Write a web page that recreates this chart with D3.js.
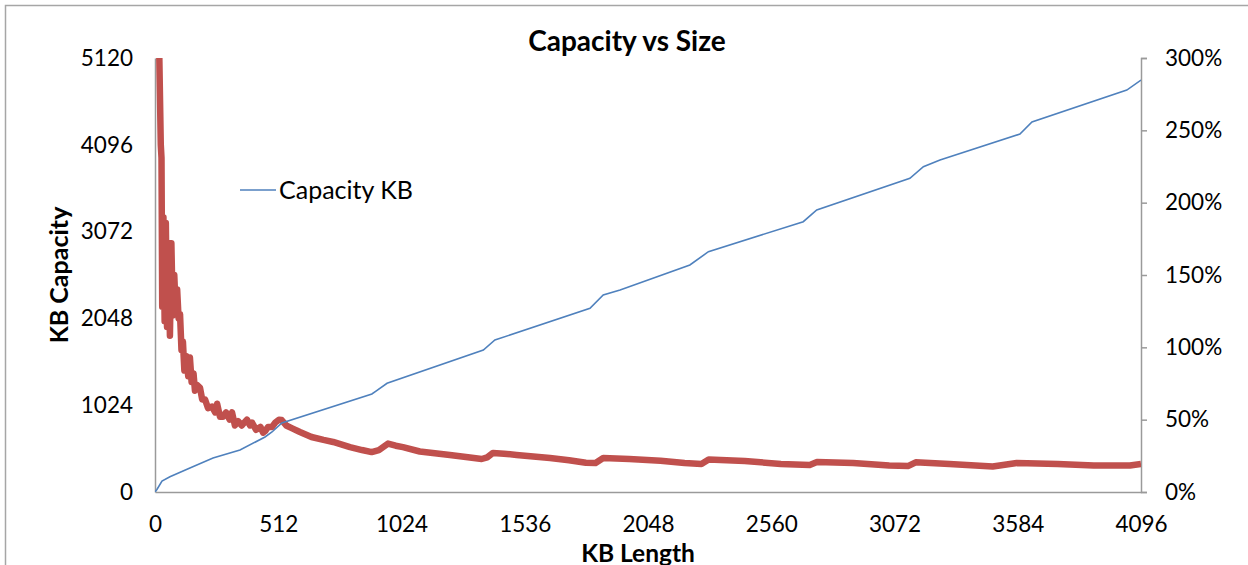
<!DOCTYPE html>
<html>
<head>
<meta charset="utf-8">
<script src="https://cdn.jsdelivr.net/npm/d3@7"></script>
<style>
  body { margin: 0; background: #fff; }
  text { font-family: Lato, "Liberation Sans", sans-serif; fill: #000; }
</style>
</head>
<body>
<div class="chart"></div>
<script>
// capacity series (KB length -> KB capacity)
var capLen = [0, 8, 29, 62, 145, 241, 353, 457, 486, 527, 901, 918, 964, 1364, 1412, 1807, 1862, 1932, 2222, 2299, 2693, 2749, 3136, 3192, 3261, 3593, 3643, 4037, 4096];
var capKB  = [0, 30, 130, 180, 283, 401, 495, 649, 708, 814, 1156, 1191, 1282, 1675, 1793, 2167, 2324, 2383, 2678, 2835, 3189, 3327, 3701, 3838, 3917, 4223, 4365, 4742, 4860];

// overhead series (KB length -> percent, right axis)
var ovLen = [4, 18, 24, 27, 30, 35, 40, 45, 50, 56, 62, 68, 74, 80, 86, 92, 98, 104, 110, 116, 122, 130, 138, 145, 152, 160, 166, 175, 187, 196, 208, 220, 237, 250, 258, 270, 282, 295, 310, 320, 332, 345, 360, 382, 395, 403, 420, 438, 449, 457, 470, 486, 500, 515, 526, 545, 570, 602, 650, 700, 740, 810, 860, 900, 930, 968, 1000, 1030, 1100, 1225, 1300, 1357, 1380, 1404, 1450, 1502, 1641, 1720, 1790, 1830, 1862, 1970, 2100, 2200, 2270, 2300, 2450, 2600, 2720, 2750, 2900, 3050, 3130, 3160, 3300, 3480, 3580, 3750, 3900, 4050, 4096];
var ovPct = [420, 300, 240, 231, 128, 190, 118, 186, 114, 172, 108, 172, 122, 150, 126, 140, 120, 123, 98, 104, 84, 94, 80, 93, 76, 82, 70, 74, 72, 64, 64, 58, 59, 55, 61, 52, 52, 55, 50, 55, 46, 49, 46, 50, 46, 48, 43, 45, 41, 42, 45, 45, 48, 50, 49.8, 46, 44, 41.5, 38, 36, 34.6, 31, 29, 27.6, 29, 33.5, 32, 31, 28, 25.6, 24, 22.8, 24, 27, 26.5, 25.6, 23.5, 22, 20.2, 20, 23.5, 22.8, 21.6, 20, 19.4, 22.5, 21.4, 19.4, 18.7, 20.7, 20, 18.3, 18, 20.5, 19.4, 17.6, 20, 19.4, 18.3, 18.3, 19.4];

var xTicks = [0, 512, 1024, 1536, 2048, 2560, 3072, 3584, 4096];
var yTicks = [0, 1024, 2048, 3072, 4096, 5120];
var pctTicks = [0, 50, 100, 150, 200, 250, 300];

var width = 1248;
var height = 565;
var plot = { left: 155, right: 1141, top: 58, bottom: 492 };

var svg = d3.select(".chart").append("svg")
.attr("width", width)
.attr("height", height);

// chart area border (only left/top edge visible in the crop)
svg.append("rect")
.attr("x", 5.5).attr("y", 5.5)
.attr("width", 1300).attr("height", 700)
.attr("fill", "none")
.attr("stroke", "#a6a6a6")
.attr("stroke-width", 1.5);

var x = d3.scaleLinear().domain([0, 4096]).range([plot.left, plot.right]);
var y = d3.scaleLinear().domain([0, 5120]).range([plot.bottom, plot.top]);
var y2 = d3.scaleLinear().domain([0, 300]).range([plot.bottom, plot.top]);

svg.append("clipPath").attr("id", "plotclip")
.append("rect")
.attr("x", plot.left).attr("y", plot.top)
.attr("width", plot.right - plot.left)
.attr("height", plot.bottom - plot.top);

// axes: left and bottom have no tick marks, right one has outward ticks
var axisColor = "#9a9a9a";

var gx = svg.append("g")
.attr("transform", "translate(0," + plot.bottom + ")")
.call(d3.axisBottom(x).tickValues(xTicks).tickSize(0).tickPadding(24).tickFormat(d3.format("d")));

var gy = svg.append("g")
.attr("transform", "translate(" + plot.left + ",0)")
.call(d3.axisLeft(y).tickValues(yTicks).tickSize(0).tickPadding(22).tickFormat(d3.format("d")));

var gy2 = svg.append("g")
.attr("transform", "translate(" + plot.right + ",0)")
.call(d3.axisRight(y2).tickValues(pctTicks).tickSize(6).tickPadding(18).tickFormat(d => d + "%"));

[gx, gy, gy2].forEach(function (g) {
  g.select(".domain").attr("stroke", axisColor).attr("stroke-width", 1.5);
  g.selectAll(".tick line").attr("stroke", axisColor).attr("stroke-width", 1.5);
  g.selectAll(".tick text")
  .style("font-family", "Lato, 'Liberation Sans', sans-serif")
  .style("font-size", "22.5px")
  .attr("fill", "#000");
});

// lines
var capData = capLen.map((d, i) => [d, capKB[i]]);
var ovData = ovLen.map((d, i) => [d, ovPct[i]]);

var lines = svg.append("g").attr("clip-path", "url(#plotclip)");

lines.append("path")
.datum(ovData)
.attr("fill", "none")
.attr("stroke", "#c0504d")
.attr("stroke-width", 6.5)
.attr("stroke-linejoin", "round")
.attr("d", d3.line().x(d => x(d[0])).y(d => y2(d[1])));

lines.append("path")
.datum(capData)
.attr("fill", "none")
.attr("stroke", "#4f81bd")
.attr("stroke-width", 1.6)
.attr("d", d3.line().x(d => x(d[0])).y(d => y(d[1])));

// titles
svg.append("text")
.attr("x", 627).attr("y", 51)
.attr("text-anchor", "middle")
.style("font-size", "28px")
.style("font-weight", "bold")
.text("Capacity vs Size");

svg.append("text")
.attr("transform", "translate(68,275) rotate(-90)")
.attr("text-anchor", "middle")
.style("font-size", "25px")
.style("font-weight", "bold")
.text("KB Capacity");

svg.append("text")
.attr("x", 638).attr("y", 561.5)
.attr("text-anchor", "middle")
.style("font-size", "24.5px")
.style("font-weight", "bold")
.text("KB Length");

// legend
svg.append("line")
.attr("x1", 240).attr("x2", 276)
.attr("y1", 190).attr("y2", 190)
.attr("stroke", "#4f81bd")
.attr("stroke-width", 1.6);

svg.append("text")
.attr("x", 279).attr("y", 199)
.style("font-size", "25px")
.text("Capacity KB");
</script>
</body>
</html>
